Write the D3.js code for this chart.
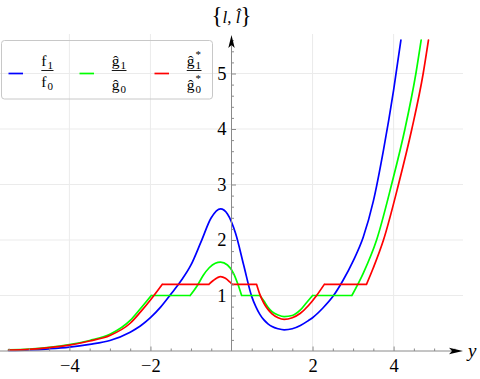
<!DOCTYPE html>
<html>
<head>
<meta charset="utf-8">
<script src="https://cdn.jsdelivr.net/npm/d3@7"></script>
<style>
  html, body { margin: 0; padding: 0; background: #fff; }
  svg, svg text { font-family: "Liberation Serif"; }
</style>
</head>
<body>
<svg width="480" height="379"></svg>
<script>
// values, [y, l]
// f1/f0, one smooth curve
const blueF = [
  [-5.5, 0.01], [-5.0, 0.02], [-4.5, 0.04], [-4.0, 0.07], [-3.5, 0.12], [-3.0, 0.19],
  [-2.5, 0.34], [-2.25, 0.45], [-2.0, 0.6], [-1.75, 0.79], [-1.5, 1.02], [-1.25, 1.26],
  [-1.0, 1.55], [-0.75, 1.97], [-0.5, 2.4], [-0.27, 2.56], [-0.1, 2.47], [0.1, 2.12],
  [0.3, 1.55], [0.5, 0.98], [0.6, 0.8], [0.7, 0.66], [0.8, 0.56], [0.9, 0.49], [1.0, 0.44],
  [1.15, 0.4], [1.3, 0.38], [1.5, 0.4], [1.7, 0.46], [1.9, 0.55], [2.0, 0.6], [2.25, 0.77],
  [2.5, 0.98], [2.75, 1.27], [3.0, 1.62], [3.25, 2.05], [3.5, 2.7], [3.75, 3.62],
  [4.0, 4.7], [4.18, 5.6]
];

// g^1/g^0, smooth pieces split where the curve meets its flat parts
const greenG = [
  [[-5.5, 0.02], [-5.0, 0.035], [-4.5, 0.065], [-4.0, 0.115], [-3.5, 0.19], [-3.0, 0.3],
   [-2.5, 0.55], [-2.25, 0.76], [-1.98, 1.0]],
  [[-1.98, 1.0], [-1.02, 1.0]],
  [[-1.02, 1.0], [-0.85, 1.17], [-0.7, 1.36], [-0.55, 1.5], [-0.4, 1.58], [-0.27, 1.6],
   [-0.1, 1.55], [0.05, 1.4], [0.15, 1.22], [0.25, 1.0]],
  [[0.25, 1.0], [0.7, 1.0]],
  [[0.7, 1.0], [0.8, 0.9], [0.9, 0.79], [1.0, 0.71], [1.15, 0.65], [1.3, 0.62], [1.5, 0.64],
   [1.7, 0.74], [1.85, 0.87], [2.0, 1.0]],
  [[2.0, 1.0], [2.97, 1.0]],
  [[2.97, 1.0], [3.25, 1.4], [3.58, 2.0], [3.95, 3.0], [4.28, 4.0], [4.55, 5.0], [4.68, 5.6]]
];

// g^1*/g^0*
const redG = [
  [[-5.5, 0.015], [-5.0, 0.03], [-4.5, 0.06], [-4.0, 0.105], [-3.5, 0.18], [-3.0, 0.28],
   [-2.5, 0.5], [-2.25, 0.7], [-2.0, 0.92], [-1.71, 1.2]],
  [[-1.71, 1.2], [-0.56, 1.2]],
  [[-0.56, 1.2], [-0.45, 1.27], [-0.35, 1.32], [-0.27, 1.34], [-0.15, 1.31], [-0.05, 1.25],
   [0.02, 1.2]],
  [[0.02, 1.2], [0.62, 1.2]],
  [[0.62, 1.2], [0.7, 1.02], [0.8, 0.86], [0.9, 0.75], [1.0, 0.67], [1.15, 0.6], [1.3, 0.57],
   [1.5, 0.6], [1.7, 0.68], [1.9, 0.82], [2.1, 1.0], [2.29, 1.2]],
  [[2.29, 1.2], [3.33, 1.2]],
  [[3.33, 1.2], [3.5, 1.5], [3.75, 2.0], [4.12, 3.0], [4.45, 4.0], [4.73, 5.0], [4.86, 5.6]]
];

const xTicks = [-4, -2, 2, 4];
const xTickLabels = ['\u22124', '\u22122', '2', '4'];
const yTicks = [1, 2, 3, 4, 5];
const yTickLabels = ['1', '2', '3', '4', '5'];

const seriesColors = ['#0000ff', '#00ff00', '#ff0000'];
const legendLetters = ['f', '\u011d', '\u011d'];
const legendStars = [false, false, true];

const serif = '"Liberation Serif"';
const svg = d3.select('svg');
const axisColor = '#8a8a8a';

const x = d3.scaleLinear().domain([-5.7, 5.7]).range([0.5, 462.5]);
const y = d3.scaleLinear().domain([0, 5.7]).range([351, 34.65]);

// grid
const grid = svg.append('g').attr('stroke', '#ebebeb').attr('stroke-width', 1);
grid.selectAll('.gx').data(xTicks).join('line')
  .attr('x1', d => x(d)).attr('x2', d => x(d))
  .attr('y1', 34).attr('y2', y(0));
grid.selectAll('.gy').data(yTicks).join('line')
  .attr('x1', 0).attr('x2', 463)
  .attr('y1', d => y(d)).attr('y2', d => y(d));

// curves
const line = d3.line()
  .x(d => x(d[0]))
  .y(d => y(d[1]))
  .curve(d3.curveMonotoneX);

const curves = svg.append('g')
  .attr('fill', 'none')
  .attr('stroke-width', 1.7)
  .attr('stroke-linecap', 'round')
  .attr('stroke-linejoin', 'round');

[[blueF], greenG, redG].forEach((pieces, i) => {
  curves.append('path')
    .attr('stroke', seriesColors[i])
    .attr('d', pieces.map(p => line(p)).join(''));
});

// axes (minor ticks first)
const xMinor = d3.range(-11, 12).map(k => k / 2).filter(d => d !== 0 && !xTicks.includes(d));
const yMinor = d3.range(1, 29).map(k => k / 5).filter(d => Math.abs(d - Math.round(d)) > 0.01);

function styleAxis(g) {
  g.attr('font-family', null).attr('font-size', null);
  g.select('.domain').remove();
  g.selectAll('line').attr('stroke', axisColor);
  g.selectAll('text').attr('fill', '#000')
    .style('font-size', '18.5px')
    .style('font-family', serif);
}

svg.append('g').attr('transform', `translate(0,${y(0)})`)
  .call(d3.axisBottom(x).tickValues(xMinor).tickFormat('').tickSize(-2.5))
  .call(styleAxis);
svg.append('g').attr('transform', `translate(0,${y(0)})`)
  .call(d3.axisBottom(x).tickValues(xTicks).tickFormat((d, i) => xTickLabels[i])
    .tickSize(-4.5).tickPadding(8))
  .call(styleAxis);

svg.append('g').attr('transform', `translate(${x(0)},0)`)
  .call(d3.axisLeft(y).tickValues(yMinor).tickFormat('').tickSize(-2.5))
  .call(styleAxis);
svg.append('g').attr('transform', `translate(${x(0)},0)`)
  .call(d3.axisLeft(y).tickValues(yTicks).tickFormat((d, i) => yTickLabels[i])
    .tickSize(-4.5).tickPadding(5))
  .call(styleAxis);

// axis lines + arrow heads
svg.append('line')
  .attr('x1', 0).attr('x2', 452).attr('y1', y(0)).attr('y2', y(0))
  .attr('stroke', axisColor);
svg.append('line')
  .attr('x1', x(0)).attr('x2', x(0)).attr('y1', y(0)).attr('y2', 44)
  .attr('stroke', axisColor);

const ax = x(0), ay = y(0);
svg.append('path')
  .attr('d', `M463,${ay} L449,${ay - 3.2} L452,${ay} L449,${ay + 3.2} Z`)
  .attr('fill', '#000');
svg.append('path')
  .attr('d', `M${ax},35 L${ax - 3.2},48 L${ax},45 L${ax + 3.2},48 Z`)
  .attr('fill', '#000');

// axis labels
svg.append('text')
  .attr('x', 468).attr('y', 357)
  .style('font-size', '19px').style('font-style', 'italic')
  .style('font-family', serif)
  .text('y');

const yLab = svg.append('text')
  .attr('x', ax).attr('y', 23)
  .attr('text-anchor', 'middle')
  .style('font-size', '17px')
  .style('font-family', serif);
yLab.append('tspan').style('font-size', '23px').text('{');
yLab.append('tspan').style('font-style', 'italic').text('l');
yLab.append('tspan').text(', ');
yLab.append('tspan').style('font-style', 'italic').text('l\u0302');
yLab.append('tspan').style('font-size', '23px').text('}');

// legend
svg.append('rect')
  .attr('x', 1.5).attr('y', 40.5).attr('width', 211).attr('height', 58.5)
  .attr('rx', 3)
  .attr('fill', 'none').attr('stroke', '#c8c8c8');

const swatchX = [8.5, 79.5, 154.5];
const splitX = [47, 120, 195];

seriesColors.forEach((c, i) => {
  svg.append('line')
    .attr('x1', swatchX[i]).attr('x2', swatchX[i] + 14.5)
    .attr('y1', 73.5).attr('y2', 73.5)
    .attr('stroke', c).attr('stroke-width', 1.7);

  const s = splitX[i];
  const g = svg.append('g').style('font-family', serif);
  const denBase = i === 0 ? 87 : 89.5;
  [[66, '1'], [denBase, '0']].forEach(([base, sub]) => {
    g.append('text').attr('x', s - 0.5).attr('y', base)
      .attr('text-anchor', 'end').style('font-size', '15.5px').text(legendLetters[i]);
    g.append('text').attr('x', s + 0.5).attr('y', base + 3)
      .style('font-size', '11px').text(sub);
    if (legendStars[i]) {
      g.append('text').attr('x', s + 0.5).attr('y', base - 8)
        .style('font-size', '11px').text('*');
    }
  });
  const bb = g.node().getBBox();
  svg.append('line')
    .attr('x1', bb.x).attr('x2', bb.x + bb.width)
    .attr('y1', 70.5).attr('y2', 70.5)
    .attr('stroke', '#000').attr('stroke-width', 0.9);
});
</script>
</body>
</html>
